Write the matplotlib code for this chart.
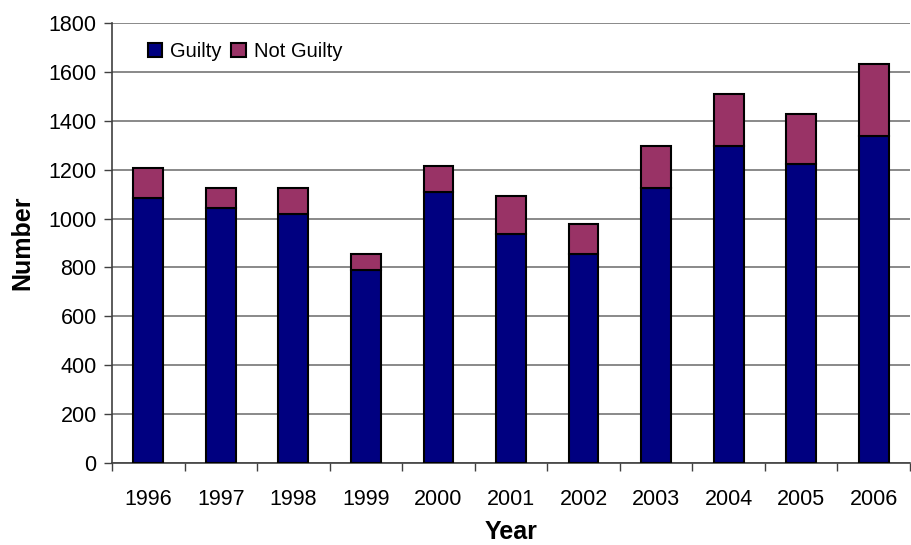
import matplotlib.pyplot as plt
import numpy as np

plt.rcParams['font.family'] = ['Liberation Sans', 'DejaVu Sans']

# datos
anios = ['1996', '1997', '1998', '1999', '2000', '2001', '2002', '2003', '2004', '2005', '2006']
culpables = [1085, 1043, 1018, 791, 1108, 938, 856, 1126, 1295, 1223, 1337]
no_culpables = [123, 83, 108, 65, 108, 154, 122, 171, 214, 204, 294]

fig = plt.figure(figsize=(9.11, 5.45), dpi=100)
ax = fig.add_axes([112/911, 1-463/545, 798/911, 440/545])

x = np.arange(len(anios))
ax.bar(x, culpables, width=0.41, color='#000080', edgecolor='black', linewidth=1.5,
       label='Guilty', zorder=3)
ax.bar(x, no_culpables, width=0.41, bottom=culpables, color='#993366', edgecolor='black',
       linewidth=1.5, label='Not Guilty', zorder=3)

ax.set_xlim(-0.5, len(anios) - 0.5)
ax.set_ylim(0, 1800)
ax.set_yticks(range(0, 1801, 200))
ax.yaxis.grid(True, color='#808080', linewidth=1.3, zorder=0)

# ticks del eje x entre categorias
ax.set_xticks(np.arange(-0.5, len(anios), 1))
ax.set_xticklabels([])
ax.set_xticks(x, minor=True)
ax.set_xticklabels(anios, minor=True)
ax.tick_params(axis='x', which='minor', length=0, pad=19, labelsize=15.5)
ax.tick_params(axis='x', which='major', length=6, width=1, color='#404040')
ax.tick_params(axis='y', length=6, width=1, color='#404040', labelsize=15.5, pad=5)

for s in ['top', 'right']:
    ax.spines[s].set_visible(False)
for s in ['left', 'bottom']:
    ax.spines[s].set_color('#404040')
    ax.spines[s].set_linewidth(1.2)

ax.set_xlabel('Year', fontsize=18, fontweight='bold', labelpad=7)
ax.set_ylabel('Number', fontsize=18, fontweight='bold', labelpad=10)

ax.legend(loc='upper left', bbox_to_anchor=(0.022, 0.998), ncol=2, frameon=False,
          fontsize=14.5, handlelength=0.7, handleheight=0.7, handletextpad=0.4,
          columnspacing=0.5)

fig.savefig('out.png', dpi=100)
